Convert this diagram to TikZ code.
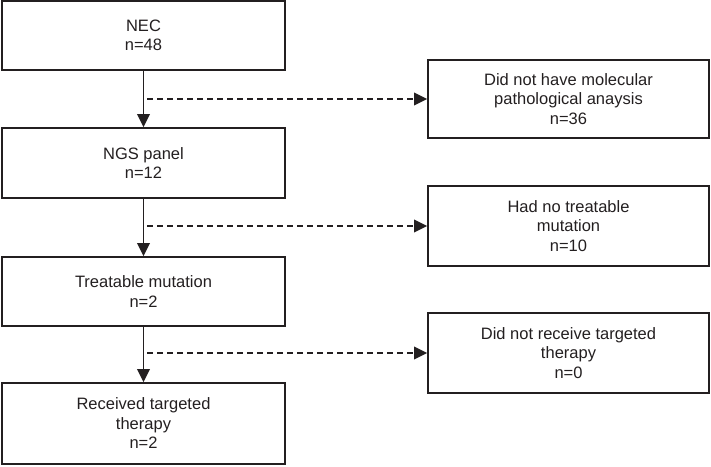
\documentclass[tikz,border=0pt]{standalone}
\usepackage{fontspec}
\setmainfont{Liberation Sans}
\usetikzlibrary{arrows.meta}
\definecolor{ink}{HTML}{231F20}

\begin{document}
\begin{tikzpicture}[x=1pt,y=-1pt,
  box/.style={shape=rectangle,draw=ink,line width=1.8pt,text=ink,align=center,inner sep=0pt,
    font=\fontsize{16.5}{19.5}\selectfont},
  lbox/.style={box,minimum width=283pt},
  rbox/.style={box,minimum width=281pt,minimum height=80pt},
  flow/.style={draw=ink,line width=1.9pt,-{Triangle[length=13pt,width=12.5pt]}},
  side/.style={flow,dash pattern=on 5.5pt off 4.5pt,dash phase=6.5pt}]
\useasboundingbox (0,0) rectangle (711,466);
\node[lbox,minimum height=69pt] (nec) at (143.5,35.5) {NEC\\n=48};
\node[lbox,minimum height=70pt] (ngs) at (143.5,163) {NGS panel\\n=12};
\node[lbox,minimum height=69pt] (treat) at (143.5,291.5) {Treatable mutation\\n=2};
\node[lbox,minimum height=81pt] (recv) at (143.5,423.5) {Received targeted\\therapy\\n=2};
\node[rbox,minimum height=78pt] (nomol) at (568.5,99) {Did not have molecular\\pathological anaysis\\n=36};
\node[rbox] (nomut) at (568.5,226) {Had no treatable\\mutation\\n=10};
\node[rbox] (norecv) at (568.5,353) {Did not receive targeted\\therapy\\n=0};
\coordinate (s1) at (nec.south |- nomol.west);
\coordinate (s2) at (ngs.south |- nomut.west);
\coordinate (s3) at (treat.south |- norecv.west);
\draw [flow] (nec.south) -- (ngs.north);
\draw [flow] (ngs.south) -- (treat.north);
\draw [flow] (treat.south) -- (recv.north);
\draw [side] (s1) -- (nomol.west);
\draw [side] (s2) -- (nomut.west);
\draw [side] (s3) -- (norecv.west);
\end{tikzpicture}
\end{document}
